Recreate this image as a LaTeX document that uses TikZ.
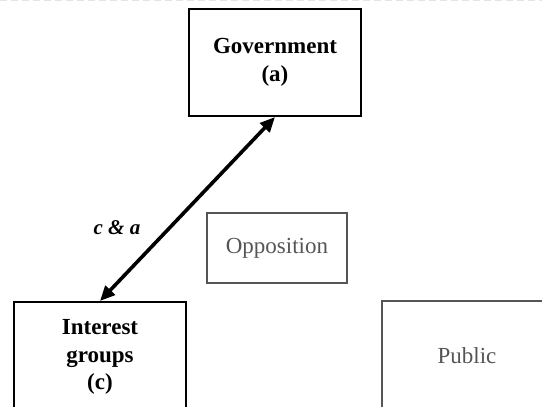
\documentclass[tikz,border=0pt]{standalone}
\usepackage{fontspec}
\setmainfont{Liberation Serif}
\usetikzlibrary{arrows.meta}
\definecolor{boxgray}{HTML}{555555}
\definecolor{dashgray}{HTML}{E4E4E4}
\tikzset{
  mainbox/.style={draw=black, line width=2pt, rectangle, align=center, font=\fontsize{23}{27.5}\selectfont\bfseries, inner sep=0pt},
  sidebox/.style={draw=boxgray, line width=2pt, rectangle, align=center, text=boxgray, font=\fontsize{23}{27.5}\selectfont, inner sep=0pt},
  linkarrow/.style={line width=3.6pt, {Triangle[length=15pt,width=13pt]}-{Triangle[length=15pt,width=13pt]}, shorten <=0pt, shorten >=0pt},
  edgelabel/.style={font=\fontsize{21}{24}\selectfont\bfseries\itshape, inner sep=0pt}
}
\begin{document}
\begin{tikzpicture}[x=1pt,y=-1pt]
\useasboundingbox (0,0) rectangle (542,407);
\coordinate (dl) at (0,0.6);
\coordinate (dr) at (542,0.6);
\draw[dashgray, line width=1.2pt, dash pattern=on 7pt off 4pt] (dl) -- (dr);
\node[mainbox, minimum width=172pt, minimum height=107pt] (gov) at (275,62.5) {Government\\(a)};
\node[sidebox, minimum width=140pt, minimum height=70pt] (opp) at (277,248) {Opposition};
\node[mainbox, minimum width=172pt, minimum height=110pt, anchor=north] (ig) at (100,301) {Interest\\groups\\(c)};
\node[sidebox, minimum width=170pt, minimum height=110pt, anchor=north west] (pub) at (381,300) {Public};
\draw[linkarrow] (gov.south) -- (ig.north);
\node[edgelabel] (lab) at (117,228) {c \& a};
\end{tikzpicture}
\end{document}
